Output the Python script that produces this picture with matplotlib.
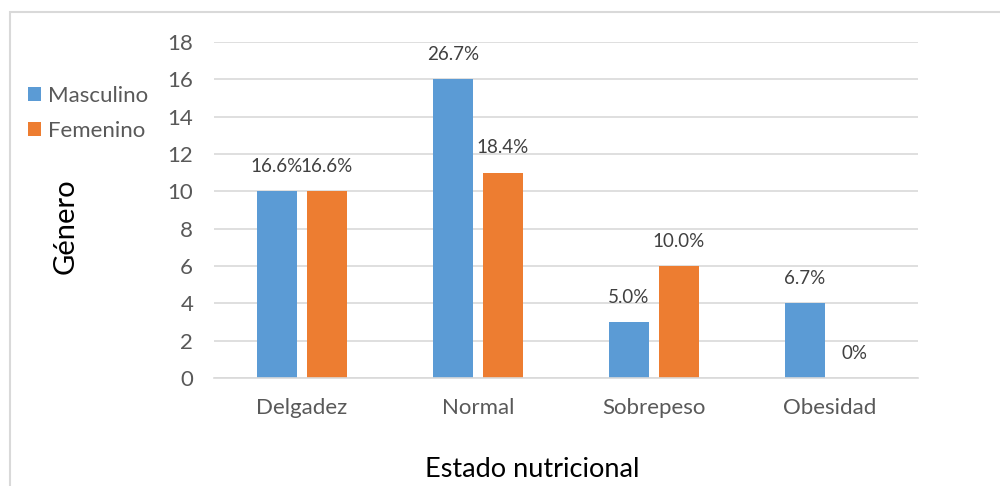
import matplotlib.pyplot as plt
import numpy as np
from matplotlib.patches import Rectangle

# Datos
categorias = ['Delgadez', 'Normal', 'Sobrepeso', 'Obesidad']
masculino = [10, 16, 3, 4]
femenino = [10, 11, 6, 0]
etiq_masc = ['16.6%', '26.7%', '5.0%', '6.7%']
etiq_fem = ['16.6%', '18.4%', '10.0%', '0%']

AZUL = '#5B9BD5'
NARANJA = '#ED7D31'
GRIS_TXT = '#595959'
GRIS_LIN = '#D9D9D9'

plt.rcParams['font.family'] = ['Lato', 'DejaVu Sans']

fig = plt.figure(figsize=(10, 4.86), dpi=100)
ax = fig.add_axes([0.214, 0.222, 0.704, 0.6916])

x = np.arange(len(categorias))
ancho = 0.227
desp = 0.142

b1 = ax.bar(x - desp, masculino, ancho, color=AZUL, label='Masculino')
b2 = ax.bar(x + desp, femenino, ancho, color=NARANJA, label='Femenino')

for barras, etiquetas in [(b1, etiq_masc), (b2, etiq_fem)]:
    for b, t in zip(barras, etiquetas):
        ax.annotate(t, (b.get_x() + b.get_width() / 2, b.get_height()),
                    xytext=(0, 18), textcoords='offset points',
                    ha='center', va='center', fontsize=13.5, color='#404040')

ax.set_xlim(-0.5, 3.5)
ax.set_ylim(0, 18)
ax.set_yticks(range(0, 19, 2))
ax.set_xticks(x)
ax.set_xticklabels(categorias)
ax.yaxis.grid(True, color=GRIS_LIN, linewidth=1.2)
ax.set_axisbelow(True)
for s in ['top', 'right', 'left']:
    ax.spines[s].set_visible(False)
ax.spines['bottom'].set_color(GRIS_LIN)
ax.spines['bottom'].set_linewidth(1.2)
ax.tick_params(axis='both', length=0, labelsize=16, colors=GRIS_TXT)
ax.tick_params(axis='y', pad=15)
ax.tick_params(axis='x', pad=14)

fig.text(0.066, 0.535, 'Género', rotation=90, ha='center', va='center',
         fontsize=21, color='black')
fig.text(0.532, 0.034, 'Estado nutricional', ha='center', va='center',
         fontsize=19.5, color='black')

fig.legend(handles=[b1, b2], loc='upper left', bbox_to_anchor=(0.019, 0.842),
           frameon=False, fontsize=16, handlelength=0.6, handleheight=0.6,
           handletextpad=0.3, labelspacing=0.7, labelcolor=GRIS_TXT,
           borderaxespad=0)

# marco del grafico
fig.patches.append(Rectangle((0.010, -0.1), 1.2, 1 - 12 / 486 + 0.1,
                             transform=fig.transFigure, fill=False,
                             edgecolor=GRIS_LIN, linewidth=1.5))

fig.savefig('out.png', dpi=100, facecolor='white')
